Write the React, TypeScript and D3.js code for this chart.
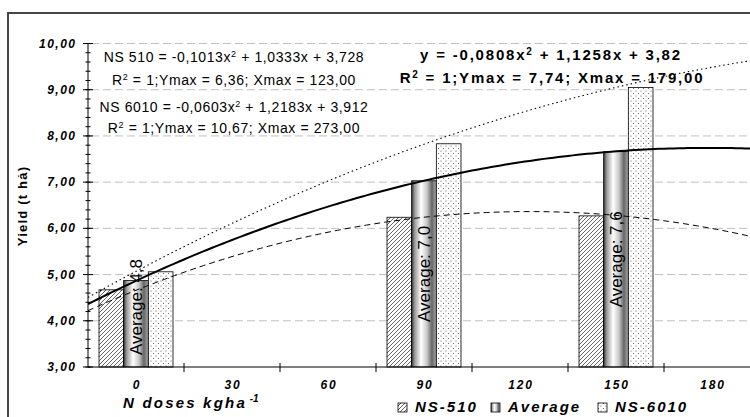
import React from 'react';
import * as d3 from 'd3';

// N doses (categories on the x axis)
const categories = ['0', '30', '60', '90', '120', '150', '180'];
// yields (t/ha), null where no bar is drawn
const ns510 = [4.67, null, null, 6.24, null, 6.27, null];
const average = [4.87, null, null, 7.03, null, 7.66, null];
const ns6010 = [5.06, null, null, 7.83, null, 9.05, null];
const seriesNames = ['NS-510', 'Average', 'NS-6010'];
const yTicks = [3, 4, 5, 6, 7, 8, 9, 10];
// trendline coefficients [a, b, c] for a*x^2 + b*x + c (x = category index 1..7)
const trend510 = [-0.1013, 1.0333, 3.728];
const trendAvg = [-0.0808, 1.1258, 3.82];
const trend6010 = [-0.0603, 1.2183, 3.912];

const W = 750;
const H = 417;
const FONT = "'Liberation Sans', Arial, sans-serif";

export default function App() {
  const left = 88;
  const top = 43.5;
  const bottom = 367;
  const bandW = 96;

  const x = d3.scaleBand().domain(categories).range([left, left + bandW * categories.length]);
  const xIdx = d3.scaleLinear().domain([0.5, categories.length + 0.5]).range([left, left + bandW * categories.length]);
  const y = d3.scaleLinear().domain([3, 10]).range([bottom, top]);
  const inner = d3.scaleBand().domain(seriesNames).range([11, bandW - 11]);

  const series = [ns510, average, ns6010];
  const fills = ['url(#hatch)', 'url(#cyl)', 'url(#dots)'];

  const sample = d3.range(0.5, 7.51, 0.05);
  const curve = (c: number[]) =>
    d3.line<number>()
      .x((i) => xIdx(i))
      .y((i) => y(c[0] * i * i + c[1] * i + c[2]))(sample) || '';

  const minorTicks = d3.range(3, 10.001, 0.2);
  const fmt = (v: number) => v.toFixed(2).replace('.', ',');
  const avgLabel = (v: number) => 'Average: ' + (Math.floor(v * 10) / 10).toFixed(1).replace('.', ',');

  return (
    <svg width={W} height={H} style={{ position: 'absolute', left: 0, top: 0, background: '#fff' }} fontFamily={FONT}>
      <defs>
        <pattern id="hatch" patternUnits="userSpaceOnUse" width="4" height="4">
          <rect width="4" height="4" fill="#fff" />
          <path d="M-1,1 l2,-2 M0,4 l4,-4 M3,5 l2,-2" stroke="#555" strokeWidth="0.9" />
        </pattern>
        <pattern id="dots" patternUnits="userSpaceOnUse" width="5" height="5">
          <rect width="5" height="5" fill="#fff" />
          <circle cx="1" cy="1" r="0.6" fill="#555" />
          <circle cx="3.5" cy="3.5" r="0.6" fill="#555" />
        </pattern>
        <linearGradient id="cyl" x1="0" x2="1" y1="0" y2="0">
          <stop offset="0" stopColor="#333" />
          <stop offset="0.12" stopColor="#999" />
          <stop offset="0.38" stopColor="#fff" />
          <stop offset="0.62" stopColor="#c8c8c8" />
          <stop offset="0.82" stopColor="#666" />
          <stop offset="1" stopColor="#aaa" />
        </linearGradient>
        <clipPath id="plot">
          <rect x={left} y={0} width={W - left} height={bottom} />
        </clipPath>
      </defs>

      {/* outer chart border */}
      <rect x={8} y={13} width={W + 20} height={H + 20} fill="none" stroke="#333" strokeWidth={1.8} />

      {/* gridlines */}
      {yTicks.filter((t) => t > 3).map((t) => (
        <line key={'g' + t} x1={left + 3} x2={W} y1={y(t)} y2={y(t)} stroke="#c0c0c0" strokeDasharray="8,4" />
      ))}

      {/* bars */}
      {series.map((s, si) =>
        s.map((v, ci) =>
          v == null ? null : (
            <rect
              key={'b' + si + '-' + ci}
              x={(x(categories[ci]) as number) + (inner(seriesNames[si]) as number)}
              y={y(v)}
              width={inner.bandwidth()}
              height={bottom - y(v)}
              fill={fills[si]}
              stroke="#000"
              strokeWidth={0.8}
            />
          )
        )
      )}

      {/* trendlines */}
      <g clipPath="url(#plot)" fill="none" stroke="#000">
        <path d={curve(trend510)} strokeWidth={1} strokeDasharray="6,4" />
        <path d={curve(trend6010)} strokeWidth={1.1} strokeDasharray="1.5,3" />
        <path d={curve(trendAvg)} strokeWidth={2} />
      </g>

      {/* average labels */}
      {average.map((v, ci) => {
        if (v == null) return null;
        const cx = (x(categories[ci]) as number) + (inner('Average') as number) + inner.bandwidth() / 2;
        const cy = Math.min((bottom + y(v)) / 2, bottom - 4 - 56);
        return (
          <text key={'l' + ci} transform={`translate(${cx},${cy}) rotate(-90)`} textAnchor="middle" dominantBaseline="central" fontSize={17} fill="#000">
            {avgLabel(v)}
          </text>
        );
      })}

      {/* y axis */}
      <line x1={left} x2={left} y1={top} y2={bottom} stroke="#000" />
      {minorTicks.map((t, i) => (
        <line key={'m' + i} x1={left - 2.5} x2={left + 2.5} y1={y(t)} y2={y(t)} stroke="#000" />
      ))}
      {yTicks.map((t) => (
        <g key={'yt' + t}>
          <line x1={left - 5} x2={left + 5} y1={y(t)} y2={y(t)} stroke="#000" />
          <text x={76.5} y={y(t) + 4} textAnchor="end" fontSize={12} fontWeight="bold" fontStyle="italic" letterSpacing={1.5}>{fmt(t)}</text>
        </g>
      ))}
      <text transform={`translate(27,206) rotate(-90)`} textAnchor="middle" fontSize={13} fontWeight="bold" letterSpacing={1.2}>
        Yield (t hả)
      </text>

      {/* x axis */}
      <line x1={left} x2={W} y1={bottom} y2={bottom} stroke="#000" />
      {categories.map((c) => (
        <g key={'xt' + c}>
          <line x1={(x(c) as number) + bandW} x2={(x(c) as number) + bandW} y1={bottom - 4} y2={bottom + 5} stroke="#000" />
          <text x={(x(c) as number) + bandW / 2 + 1} y={389} textAnchor="middle" fontSize={12} fontWeight="bold" fontStyle="italic" letterSpacing={1.8}>{c}</text>
        </g>
      ))}
      <text x={123} y={408} fontSize={15} fontWeight="bold" fontStyle="italic" letterSpacing={2.2}>
        N doses kgha<tspan dy={-6} fontSize={10} letterSpacing={0}> -1</tspan>
      </text>

      {/* legend */}
      {seriesNames.map((n, i) => {
        const lx = [398, 491, 598][i];
        return (
          <g key={'lg' + n}>
            <rect x={lx} y={403} width={9} height={9} fill={fills[i]} stroke="#000" strokeWidth={0.8} />
            <text x={lx + 17} y={412} fontSize={15} fontWeight="bold" fontStyle="italic" letterSpacing={2}>{n}</text>
          </g>
        );
      })}

      {/* trendline equations */}
      <g fontSize={14} textAnchor="middle" letterSpacing={0.6}>
        <text x={234} y={62}>NS 510 = -0,1013x<tspan dy={-5} fontSize={9}>2</tspan><tspan dy={5}> + 1,0333x + 3,728</tspan></text>
        <text x={234} y={85}>R<tspan dy={-5} fontSize={9}>2</tspan><tspan dy={5}> = 1;Ymax = 6,36; Xmax = 123,00</tspan></text>
        <text x={234} y={112}>NS 6010 = -0,0603x<tspan dy={-5} fontSize={9}>2</tspan><tspan dy={5}> + 1,2183x + 3,912</tspan></text>
        <text x={234} y={133}>R<tspan dy={-5} fontSize={9}>2</tspan><tspan dy={5}> = 1;Ymax = 10,67; Xmax = 273,00</tspan></text>
      </g>
      <g fontSize={15} fontWeight="bold" textAnchor="middle" letterSpacing={1.8}>
        <text x={551} y={60}>y = -0,0808x<tspan dy={-5} fontSize={10}>2</tspan><tspan dy={5}> + 1,1258x + 3,82</tspan></text>
        <text x={552} y={83}>R<tspan dy={-5} fontSize={10}>2</tspan><tspan dy={5}> = 1;Ymax = 7,74; Xmax = 179,00</tspan></text>
      </g>
    </svg>
  );
}
